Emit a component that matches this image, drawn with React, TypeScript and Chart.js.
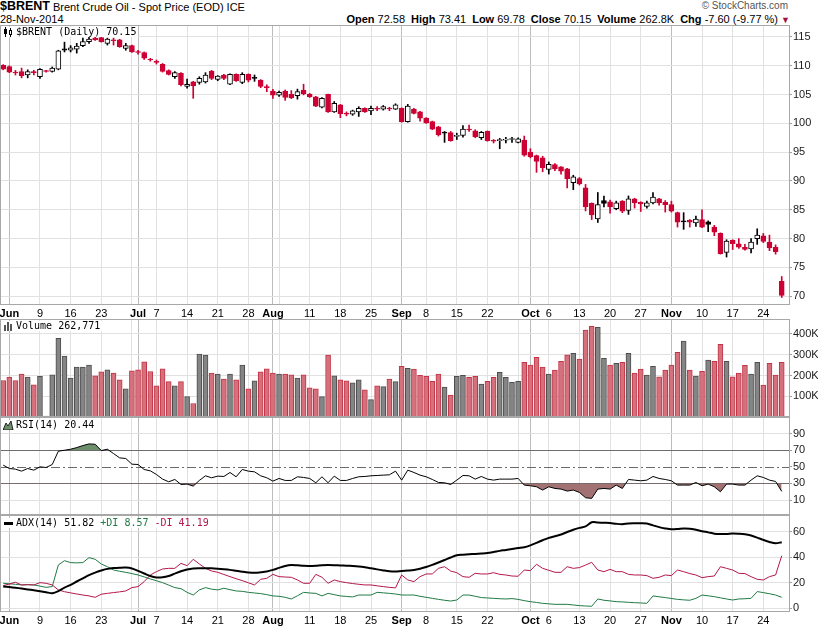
import React, { useEffect, useRef } from 'react';
import { Chart, registerables } from 'chart.js';

Chart.register(...registerables);

// ---------------- data ----------------
const PREV_CLOSE = 110.6; // close of the day before the first bar
const OPEN = [
  110.1, 109.85, 108.85, 109.0, 108.4, 108.95, 108.1, 109.1, 109.0, 109.4,
  112.95, 112.7, 112.9, 113.5, 114.2, 114.8, 114.9, 113.9, 114.45, 114.5,
  113.0, 113.5, 112.4, 112.3, 111.05, 110.65, 110.25, 109.15, 108.1, 108.7,
  106.4, 107.2, 107.1, 107.2, 109.1, 107.65, 108.4, 106.8, 108.5, 107.1,
  108.5, 107.85, 107.5, 106.3, 105.6, 104.9, 105.6, 105.05, 104.8, 105.8,
  105.1, 104.6, 102.8, 105.05, 102.0, 103.2, 101.65, 101.6, 102.0, 102.6,
  102.15, 102.5, 102.45, 102.55, 102.45, 102.6, 100.3, 102.5, 102.0, 100.9,
  100.3, 99.4, 98.35, 98.4, 97.75, 97.9, 98.9, 98.7, 97.5, 98.6,
  96.95, 97.0, 97.1, 97.2, 96.7, 97.1, 95.0, 94.4, 94.0, 92.0,
  92.85, 92.45, 92.1, 89.7, 90.4, 88.8, 86.1, 83.4, 86.6, 86.4,
  85.2, 86.5, 84.9, 86.9, 86.3, 85.6, 86.2, 86.9, 86.3, 85.9,
  84.5, 82.95, 83.2, 82.7, 83.3, 82.9, 82.0, 80.9, 77.6, 79.7,
  79.1, 78.5, 78.2, 80.0, 80.5, 79.4, 78.5, 72.58,
];
const HIGH = [
  110.2, 110.0, 109.2, 109.6, 109.3, 109.2, 109.5, 109.2, 109.8, 112.7,
  114.1, 113.5, 113.9, 114.8, 115.1, 115.0, 115.0, 114.8, 114.8, 114.6,
  113.9, 113.6, 112.7, 112.4, 111.3, 111.0, 110.4, 109.3, 109.0, 108.8,
  107.7, 107.3, 108.1, 108.8, 109.2, 108.3, 108.5, 108.6, 108.6, 108.8,
  108.6, 108.4, 107.6, 106.7, 105.9, 105.6, 105.8, 105.7, 105.95, 106.8,
  105.2, 104.7, 104.5, 105.1, 103.8, 103.3, 102.0, 102.3, 102.9, 102.7,
  103.0, 102.9, 103.1, 102.8, 103.4, 102.7, 103.3, 102.6, 102.1, 101.0,
  100.4, 99.5, 98.6, 98.6, 98.3, 99.6, 99.7, 98.9, 98.6, 98.7,
  97.2, 97.4, 97.6, 97.6, 97.5, 97.8, 95.6, 94.5, 94.3, 93.3,
  93.0, 92.5, 92.2, 91.0, 90.6, 89.4, 86.2, 88.0, 87.4, 86.7,
  86.5, 86.6, 87.4, 87.0, 86.4, 86.5, 88.0, 87.0, 86.6, 86.5,
  84.6, 84.5, 83.3, 83.9, 85.0, 83.1, 82.3, 81.0, 79.8, 79.8,
  80.0, 79.0, 80.0, 81.7, 80.9, 80.6, 78.9, 73.41,
];
const LOW = [
  109.3, 108.8, 108.4, 107.9, 107.9, 108.4, 107.8, 108.9, 108.9, 109.3,
  112.4, 112.4, 112.2, 113.3, 113.9, 114.4, 114.1, 113.6, 113.6, 113.2,
  112.7, 112.3, 112.0, 111.1, 110.8, 110.3, 108.9, 108.4, 107.8, 106.5,
  106.1, 104.35, 106.8, 107.0, 107.6, 107.4, 107.6, 106.7, 107.3, 106.9,
  107.2, 107.3, 106.2, 105.5, 104.35, 104.7, 104.0, 104.3, 104.2, 104.95,
  104.5, 102.9, 102.7, 101.9, 101.9, 101.0, 101.3, 101.4, 101.2, 101.9,
  101.5, 102.2, 102.3, 102.2, 102.4, 100.2, 100.2, 101.65, 100.4, 100.0,
  98.9, 97.8, 96.7, 96.9, 97.2, 97.6, 98.6, 97.5, 97.2, 96.9,
  96.6, 95.6, 96.6, 96.7, 96.6, 94.3, 94.0, 91.5, 91.6, 91.2,
  91.8, 91.2, 88.8, 88.5, 89.3, 84.8, 83.3, 82.8, 85.5, 84.4,
  85.0, 84.5, 84.2, 85.3, 84.7, 85.3, 86.0, 85.8, 84.6, 84.6,
  82.0, 81.6, 82.0, 82.1, 81.9, 81.2, 80.5, 77.3, 76.8, 78.1,
  78.3, 78.0, 77.5, 79.0, 79.3, 77.9, 77.3, 69.78,
];
const CLOSE = [
  109.4, 108.9, 108.75, 108.3, 109.0, 108.8, 109.4, 109.0, 109.6, 112.6,
  112.7, 113.1, 113.4, 114.2, 114.65, 114.5, 114.2, 114.65, 114.35, 113.3,
  113.5, 112.4, 112.3, 111.3, 111.0, 110.6, 109.0, 108.5, 108.8, 106.7,
  106.8, 106.5, 107.8, 108.4, 107.8, 108.2, 107.8, 108.5, 107.4, 108.5,
  107.5, 107.8, 106.4, 106.2, 104.9, 105.4, 104.5, 104.4, 105.5, 105.1,
  104.6, 103.0, 104.35, 102.0, 103.5, 101.7, 101.6, 102.2, 102.6, 102.0,
  102.6, 102.45, 102.9, 102.5, 103.2, 100.3, 103.0, 101.75, 100.9, 100.1,
  99.0, 98.0, 98.3, 97.0, 97.8, 99.0, 98.85, 97.7, 98.45, 97.0,
  96.9, 97.05, 97.15, 97.25, 97.3, 94.5, 94.2, 93.4, 92.3, 92.9,
  92.1, 91.7, 90.4, 90.7, 89.5, 85.5, 84.1, 85.9, 86.1, 85.5,
  86.2, 84.75, 86.9, 86.2, 86.0, 86.2, 87.2, 86.2, 85.9, 84.75,
  82.85, 82.9, 82.85, 83.4, 82.0, 82.45, 81.1, 77.4, 79.55, 79.1,
  78.5, 78.1, 79.4, 80.6, 79.5, 78.4, 77.75, 70.15,
];
// volume in thousands
const VOLUME_K = [
  176, 192, 176, 207, 192, 155, 196, 5, 203, 379,
  294, 188, 241, 241, 250, 198, 217, 227, 212, 179,
  136, 222, 227, 266, 219, 150, 232, 170, 150, 170,
  98, 65, 303, 298, 212, 207, 183, 207, 179, 250,
  136, 174, 217, 232, 212, 207, 207, 203, 188, 203,
  141, 136, 98, 298, 198, 179, 174, 164, 179, 131,
  84, 150, 146, 183, 170, 244, 234, 231, 201, 196,
  172, 207, 144, 106, 196, 201, 191, 196, 159, 172,
  191, 215, 191, 167, 172, 263, 250, 287, 241, 207,
  226, 268, 299, 307, 279, 419, 437, 432, 283, 250,
  258, 263, 307, 212, 231, 202, 244, 193, 226, 250,
  311, 366, 226, 197, 220, 274, 268, 350, 268, 193,
  212, 249, 207, 263, 154, 258, 202, 262.771,
];
const RSI = [
  52, 48, 47.2, 44.8, 48, 46, 50, 49.2, 52.8, 68.8,
  70, 71.2, 73.2, 75.6, 77.6, 77.2, 69.6, 71.2, 66, 60.8,
  60, 53.2, 52.8, 46.8, 45.2, 40.8, 35.2, 32, 34.8, 28.8,
  29.2, 26.8, 33.6, 39.2, 36.8, 38.8, 38.4, 43.2, 38, 46.8,
  44.8, 44, 39.2, 36.8, 32.8, 36, 33.6, 33.6, 38, 37.2,
  36, 30.8, 38, 30.8, 38.8, 33.6, 33.6, 36, 38, 38.4,
  39.2, 39.6, 40, 40.4, 44.8, 34, 46, 43.2, 40, 38,
  34.8, 31.2, 30.8, 28.8, 34, 39.6, 39.2, 35.2, 38.4, 35.2,
  34, 35.2, 35.2, 35.2, 36, 28, 27.2, 26, 22, 26,
  24, 23.2, 20.8, 22, 19.2, 12.8, 12, 23.2, 24, 23.2,
  28, 24, 34.8, 34, 33.2, 34, 38.4, 36, 34.8, 33.2,
  28, 28, 28, 31.2, 27.2, 29.2, 26, 20, 29.2, 29.2,
  28, 28, 34, 39.2, 37.2, 34, 32.4, 20.44,
];
const ADX = [
  17.0, 16.6, 16.1, 15.5, 14.8, 14.1, 13.3, 12.6, 11.8, 13.4,
  16.2, 18.4, 21.0, 23.5, 26.0, 28.0, 29.6, 30.9, 31.5, 31.8,
  31.9, 31.2, 29.3, 27.3, 25.3, 24.2, 24.3, 25.3, 27.2, 29.0,
  30.4, 31.2, 31.4, 31.4, 31.3, 31.0, 30.6, 30.1, 29.4, 28.7,
  28.1, 27.8, 28.2, 28.8, 30.1, 31.7, 33.2, 34.0, 33.7, 33.3,
  33.2, 33.4, 33.8, 33.9, 33.8, 33.6, 33.4, 33.1, 32.7, 32.1,
  31.3, 30.5, 29.7, 29.0, 28.8, 29.3, 29.6, 30.0, 31.0, 32.3,
  34.0, 35.9, 37.8, 39.8, 41.6, 42.0, 42.3, 42.6, 42.9, 43.3,
  44.1, 45.0, 45.7, 46.5, 47.2, 47.8, 49.3, 51.3, 53.3, 55.2,
  56.5, 57.8, 59.8, 61.6, 63.0, 64.2, 67.4, 67.2, 67.0, 66.8,
  66.2, 65.9, 66.5, 66.6, 66.6, 66.4, 65.0, 63.6, 62.6, 61.9,
  62.1, 62.6, 62.4, 61.5, 60.4, 59.5, 58.5, 58.2, 58.2, 58.6,
  58.4, 58.0, 57.0, 55.4, 53.6, 52.0, 50.9, 51.82,
];
const PLUS_DI = [
  19.6, 19.2, 18.8, 18.3, 18.5, 18.3, 17.4, 16.4, 17.0, 34.0,
  37.3, 35.8, 35.6, 35.8, 39.7, 38.4, 34.7, 32.6, 30.0, 29.0,
  28.2, 27.2, 26.1, 24.6, 23.0, 21.6, 20.1, 18.2, 16.2, 15.4,
  12.5, 10.4, 14.4, 16.2, 15.0, 14.4, 15.7, 14.6, 13.6, 13.3,
  12.5, 12.0, 11.5, 10.7, 9.7, 9.4, 8.6, 7.3, 9.8, 12.5,
  12.0, 11.7, 9.7, 11.7, 10.7, 9.7, 9.3, 8.9, 10.4, 10.4,
  10.4, 12.5, 12.1, 11.7, 11.2, 10.4, 10.4, 10.4, 9.4, 8.6,
  7.8, 7.0, 6.3, 5.7, 6.5, 10.4, 10.4, 9.4, 8.4, 8.1,
  7.8, 7.5, 7.3, 7.6, 7.0, 6.0, 5.2, 4.6, 3.9, 3.5,
  3.1, 3.1, 3.1, 2.6, 2.1, 1.8, 1.6, 7.3, 6.3, 5.8,
  5.2, 5.0, 4.7, 4.4, 4.2, 3.9, 9.7, 9.0, 8.4, 7.7,
  7.0, 6.6, 6.3, 7.8, 10.4, 9.8, 9.1, 8.2, 7.3, 6.5,
  7.3, 7.5, 7.8, 13.1, 12.3, 11.4, 10.4, 8.57,
];
const MINUS_DI = [
  17.8, 19.0, 20.4, 18.3, 18.5, 18.3, 20.1, 19.6, 18.3, 14.4,
  13.0, 12.1, 11.2, 10.4, 9.7, 8.6, 11.0, 11.7, 12.3, 12.9,
  13.6, 16.2, 17.0, 20.9, 26.1, 28.7, 30.8, 31.3, 31.3, 35.2,
  33.4, 38.4, 34.7, 31.3, 29.2, 28.2, 26.5, 24.8, 23.2, 21.7,
  20.0, 18.3, 22.7, 23.5, 26.6, 24.8, 24.5, 24.3, 22.2, 19.6,
  19.6, 26.6, 24.3, 19.6, 22.2, 20.9, 20.1, 19.4, 18.8, 18.3,
  18.3, 17.6, 17.0, 16.4, 16.0, 26.1, 22.2, 20.9, 24.8, 26.9,
  26.9, 31.3, 32.6, 29.2, 27.9, 24.8, 24.3, 27.4, 26.9, 26.9,
  27.9, 26.6, 26.1, 25.3, 25.1, 30.0, 29.5, 34.5, 31.3, 29.8,
  28.2, 28.2, 32.6, 31.3, 31.9, 33.9, 36.0, 30.0, 28.7, 30.5,
  28.7, 28.7, 26.6, 26.1, 26.1, 25.6, 23.5, 24.3, 26.1, 25.6,
  30.0, 28.7, 27.2, 26.1, 24.0, 24.8, 25.3, 32.6, 31.3, 30.0,
  27.4, 27.2, 24.8, 22.7, 22.2, 24.8, 26.1, 41.19,
];

// x-axis ticks (bar index -> label); month starts are bold / darker lines
const TICK_IDX = [1, 6, 11, 16, 21, 22, 25, 30, 35, 40, 44, 45, 50, 55, 60, 65, 69, 74, 79, 84, 86, 89, 94, 99, 104, 109, 114, 119, 124];
const TICK_TXT = ['Jun', '9', '16', '23', '', 'Jul', '7', '14', '21', '28', 'Aug', '', '11', '18', '25', 'Sep', '8', '15', '22', '', 'Oct', '6', '13', '20', '27', 'Nov', '10', '17', '24'];
const MONTH_IDX = [1, 22, 44, 65, 86, 109];
const PRICE_TICKS = [70, 75, 80, 85, 90, 95, 100, 105, 110, 115];
const VOLUME_TICKS = [100, 200, 300, 400];
const RSI_TICKS = [10, 30, 50, 70, 90];
const RSI_LEVELS = [70, 30];
const RSI_MID = 50;
const ADX_TICKS = [0, 20, 40, 60];

// ---------------- styles ----------------
const FONT = "'Liberation Sans', Arial, Helvetica, sans-serif";
const MONO = "'DejaVu Sans Mono', monospace";
const RED = '#cc0033';
const GRID = '#e1e1e1';
const GRID_MONTH = '#bcbcbc';
const FRAME = '#a8a8a8';
const X_MIN = -0.52;
const X_MAX = 128.35;

const N = CLOSE.length;
const IDX = Array.from({ length: N }, (_, i) => i);
const prevClose = (i: number) => (i === 0 ? PREV_CLOSE : CLOSE[i - 1]);
const isUp = (i: number) => CLOSE[i] >= prevClose(i);

const framePlugin = {
  id: 'frame',
  afterDraw(chart: any) {
    const { ctx, chartArea: a } = chart;
    ctx.save();
    ctx.strokeStyle = FRAME;
    ctx.lineWidth = 1;
    ctx.strokeRect(Math.round(a.left) + 0.5, Math.round(a.top) + 0.5, Math.round(a.right - a.left) - 1, Math.round(a.bottom - a.top) - 1);
    ctx.restore();
  },
};

const rsiLinesPlugin = {
  id: 'rsiLines',
  beforeDatasetsDraw(chart: any) {
    const { ctx, chartArea: a, scales } = chart;
    const y = scales.y;
    ctx.save();
    ctx.strokeStyle = '#6a6a6a';
    ctx.lineWidth = 1;
    RSI_LEVELS.forEach((v) => {
      const py = Math.round(y.getPixelForValue(v)) + 0.5;
      ctx.beginPath();
      ctx.moveTo(a.left, py);
      ctx.lineTo(a.right, py);
      ctx.stroke();
    });
    const pm = Math.round(y.getPixelForValue(RSI_MID)) + 0.5;
    ctx.setLineDash([9, 3, 2, 3]);
    ctx.beginPath();
    ctx.moveTo(a.left, pm);
    ctx.lineTo(a.right, pm);
    ctx.stroke();
    ctx.restore();
  },
};

function buildX(showLabels: boolean, height: number) {
  return {
    type: 'linear',
    min: X_MIN,
    max: X_MAX,
    offset: false,
    afterBuildTicks: (s: any) => {
      s.ticks = TICK_IDX.map((v) => ({ value: v }));
    },
    afterFit: (s: any) => {
      s.height = height;
      s.paddingLeft = 0;
      s.paddingRight = 0;
    },
    grid: {
      offset: false,
      drawTicks: false,
      color: (c: any) => (c.tick && MONTH_IDX.includes(c.tick.value) ? GRID_MONTH : GRID),
    },
    border: { display: false },
    ticks: {
      display: showLabels,
      autoSkip: false,
      maxRotation: 0,
      minRotation: 0,
      padding: 2,
      color: '#000',
      font: (c: any) => ({ family: FONT, size: 11, weight: c.tick && MONTH_IDX.includes(c.tick.value) ? 'bold' : 'normal' }),
      callback: (v: number) => {
        const k = TICK_IDX.indexOf(v);
        return k >= 0 ? TICK_TXT[k] : '';
      },
    },
  };
}

function buildY(min: number, max: number, ticks: number[], fmt: (v: number) => string, gridColor?: any) {
  return {
    type: 'linear',
    position: 'right',
    min,
    max,
    beginAtZero: false,
    afterBuildTicks: (s: any) => {
      s.ticks = ticks.map((v) => ({ value: v }));
    },
    afterFit: (s: any) => {
      s.width = 28;
      s.paddingTop = 0;
      s.paddingBottom = 0;
    },
    grid: { color: gridColor || GRID, drawTicks: true, tickLength: 2, tickColor: '#a0a0a0' },
    border: { display: false },
    ticks: { padding: 1, color: '#1a1a1a', font: { family: FONT, size: 11 }, callback: (v: number) => fmt(v) },
  };
}

const baseOptions = (padBottom: number) => ({
  responsive: false,
  maintainAspectRatio: false,
  animation: false,
  events: [],
  layout: { padding: { top: 1, bottom: padBottom, left: 0, right: 0 } },
  plugins: { legend: { display: false }, tooltip: { enabled: false } },
});

function priceConfig(): any {
  const col = IDX.map((i) => (isUp(i) ? '#000000' : RED));
  return {
    type: 'bar',
    data: {
      datasets: [
        {
          label: 'body',
          order: 0,
          data: IDX.map((i) => ({ x: i, y: [OPEN[i], CLOSE[i]] })),
          backgroundColor: IDX.map((i) => (CLOSE[i] > OPEN[i] ? '#ffffff' : col[i])),
          borderColor: col,
          borderWidth: 1,
          borderSkipped: false,
          barThickness: 5,
          minBarLength: 1,
          grouped: false,
        },
        {
          label: 'wick',
          order: 1,
          data: IDX.map((i) => ({ x: i, y: [LOW[i], HIGH[i]] })),
          backgroundColor: col,
          borderWidth: 0,
          barThickness: 1,
          grouped: false,
        },
      ],
    },
    options: {
      ...baseOptions(0),
      scales: {
        x: buildX(true, 14),
        y: buildY(68.47, 117.08, PRICE_TICKS, (v) => String(v)),
      },
    },
    plugins: [framePlugin],
  };
}

function volumeConfig(): any {
  return {
    type: 'bar',
    data: {
      datasets: [
        {
          label: 'Volume',
          data: IDX.map((i) => ({ x: i, y: VOLUME_K[i] })),
          backgroundColor: IDX.map((i) => (isUp(i) ? '#858585' : '#d4717c')),
          borderColor: IDX.map((i) => (isUp(i) ? '#4d4d4d' : '#c23346')),
          borderWidth: 1,
          borderSkipped: 'start',
          barThickness: 5,
        },
      ],
    },
    options: {
      ...baseOptions(1),
      scales: {
        x: buildX(false, 0),
        y: buildY(0, 472, VOLUME_TICKS, (v) => `${v}K`),
      },
    },
    plugins: [framePlugin],
  };
}

function rsiConfig(): any {
  const pts = IDX.map((i) => ({ x: i, y: RSI[i] }));
  return {
    type: 'line',
    data: {
      datasets: [
        {
          label: 'RSI',
          data: pts,
          borderColor: '#000',
          borderWidth: 1,
          pointRadius: 0,
          tension: 0,
          fill: { target: { value: 70 }, above: '#6e8f6c', below: 'rgba(0,0,0,0)' },
        },
        {
          label: 'RSI low',
          data: pts,
          borderColor: 'rgba(0,0,0,0)',
          borderWidth: 0,
          pointRadius: 0,
          tension: 0,
          fill: { target: { value: 30 }, above: 'rgba(0,0,0,0)', below: '#a27272' },
        },
      ],
    },
    options: {
      ...baseOptions(1),
      scales: {
        x: buildX(false, 0),
        y: buildY(-8, 110, RSI_TICKS, (v) => String(v), (c: any) => (c.tick && [30, 50, 70].includes(c.tick.value) ? 'rgba(0,0,0,0)' : GRID)),
      },
    },
    plugins: [rsiLinesPlugin, framePlugin],
  };
}

function adxConfig(): any {
  const mk = (arr: number[]) => IDX.map((i) => ({ x: i, y: arr[i] }));
  return {
    type: 'line',
    data: {
      datasets: [
        { label: 'ADX', data: mk(ADX), borderColor: '#000', borderWidth: 2, pointRadius: 0, tension: 0.3 },
        { label: '-DI', data: mk(MINUS_DI), borderColor: '#b3174b', borderWidth: 1, pointRadius: 0, tension: 0 },
        { label: '+DI', data: mk(PLUS_DI), borderColor: '#1f7a45', borderWidth: 1, pointRadius: 0, tension: 0 },
      ],
    },
    options: {
      ...baseOptions(0),
      scales: {
        x: buildX(true, 16),
        y: buildY(-2.9, 73.1, ADX_TICKS, (v) => String(v)),
      },
    },
    plugins: [framePlugin],
  };
}

const abs = (o: any): React.CSSProperties => ({ position: 'absolute', whiteSpace: 'pre', ...o });

function Legend({ top, icon, children }: { top: number; icon: React.ReactNode; children: React.ReactNode }) {
  return (
    <div style={abs({ left: 1, top, height: 10, background: '#fff', paddingRight: 2, display: 'flex', alignItems: 'flex-start', zIndex: 3 })}>
      <div style={{ width: 15, height: 10, position: 'relative' }}>{icon}</div>
      <span style={{ font: `10px ${MONO}`, lineHeight: '10px', color: '#000' }}>{children}</span>
    </div>
  );
}

export default function App() {
  const priceRef = useRef<HTMLCanvasElement>(null);
  const volRef = useRef<HTMLCanvasElement>(null);
  const rsiRef = useRef<HTMLCanvasElement>(null);
  const adxRef = useRef<HTMLCanvasElement>(null);

  useEffect(() => {
    const charts: Chart[] = [];
    if (priceRef.current) charts.push(new Chart(priceRef.current, priceConfig()));
    if (volRef.current) charts.push(new Chart(volRef.current, volumeConfig()));
    if (rsiRef.current) charts.push(new Chart(rsiRef.current, rsiConfig()));
    if (adxRef.current) charts.push(new Chart(adxRef.current, adxConfig()));
    return () => charts.forEach((c) => c.destroy());
  }, []);

  const last = N - 1;
  const chg = CLOSE[last] - CLOSE[last - 1];
  const pct = (chg / CLOSE[last - 1]) * 100;
  const lastVol = VOLUME_K[last];
  const lab = { fontWeight: 'bold' as const, marginLeft: 6 };

  return (
    <div style={{ position: 'absolute', left: 0, top: 0, width: 818, height: 628, background: '#fff', overflow: 'hidden', fontFamily: FONT, color: '#000' }}>
      <div style={abs({ left: 0, top: 0, font: `bold 12.5px ${FONT}`, lineHeight: '12px' })}>$BRENT</div>
      <div style={abs({ left: 53, top: 2, font: `11px ${FONT}`, lineHeight: '11px' })}>Brent Crude Oil - Spot Price (EOD) ICE</div>
      <div style={abs({ left: 0, top: 14, font: `11px ${FONT}`, lineHeight: '11px' })}>28-Nov-2014</div>
      <div style={abs({ right: 30, top: 1, font: `10px ${FONT}`, lineHeight: '10px', color: '#555' })}>© StockCharts.com</div>
      <div style={abs({ right: 28, top: 14, font: `11px ${FONT}`, lineHeight: '11px' })}>
        <span style={{ fontWeight: 'bold' }}>Open</span> {OPEN[last].toFixed(2)}
        <span style={lab}>High</span> {HIGH[last].toFixed(2)}
        <span style={lab}>Low</span> {LOW[last].toFixed(2)}
        <span style={lab}>Close</span> {CLOSE[last].toFixed(2)}
        <span style={lab}>Volume</span> {lastVol.toFixed(1)}K
        <span style={lab}>Chg</span> {chg.toFixed(2)} ({pct.toFixed(2)} %) <span style={{ color: '#a01040', fontSize: 9 }}>▼</span>
      </div>

      <canvas ref={priceRef} width={818} height={295} style={abs({ left: 0, top: 24, width: 818, height: 295 })} />
      <canvas ref={volRef} width={818} height={100} style={abs({ left: 0, top: 318, width: 818, height: 100 })} />
      <canvas ref={rsiRef} width={818} height={100} style={abs({ left: 0, top: 416, width: 818, height: 100 })} />
      <canvas ref={adxRef} width={818} height={114} style={abs({ left: 0, top: 514, width: 818, height: 114 })} />

      <Legend
        top={27}
        icon={
          <svg width="12" height="10" style={{ position: 'absolute', left: 2, top: 0 }}>
            <line x1="2.5" y1="0" x2="2.5" y2="10" stroke="#000" />
            <rect x="1" y="2" width="3" height="5" fill="#000" />
            <line x1="7.5" y1="1" x2="7.5" y2="10" stroke="#000" />
            <rect x="6.5" y="3.5" width="2" height="4" fill="#fff" stroke="#000" />
          </svg>
        }
      >
        {`$BRENT (Daily) ${CLOSE[last].toFixed(2)}`}
      </Legend>
      <Legend
        top={321}
        icon={
          <svg width="12" height="10" style={{ position: 'absolute', left: 2, top: 0 }}>
            <rect x="1" y="4" width="2" height="6" fill="#555" />
            <rect x="4" y="1" width="2" height="9" fill="#555" />
            <rect x="7" y="3" width="2" height="7" fill="#555" />
          </svg>
        }
      >
        {`Volume ${Math.round(lastVol * 1000).toLocaleString('en-US')}`}
      </Legend>
      <Legend
        top={420}
        icon={
          <svg width="12" height="10" style={{ position: 'absolute', left: 2, top: 0 }}>
            <polygon points="0,10 3,3 5,6 8,1 10,10" fill="#6e8f6c" stroke="#000" strokeWidth="0.8" />
          </svg>
        }
      >
        {`RSI(14) ${RSI[last].toFixed(2)}`}
      </Legend>
      <Legend
        top={518}
        icon={
          <svg width="12" height="10" style={{ position: 'absolute', left: 2, top: 0 }}>
            <rect x="1" y="4" width="9" height="3" fill="#000" />
          </svg>
        }
      >
        {`ADX(14) ${ADX[last].toFixed(2)} `}
        <span style={{ color: '#1f7a45' }}>{`+DI ${PLUS_DI[last].toFixed(2)} `}</span>
        <span style={{ color: '#b3174b' }}>{`-DI ${MINUS_DI[last].toFixed(2)}`}</span>
      </Legend>
    </div>
  );
}
